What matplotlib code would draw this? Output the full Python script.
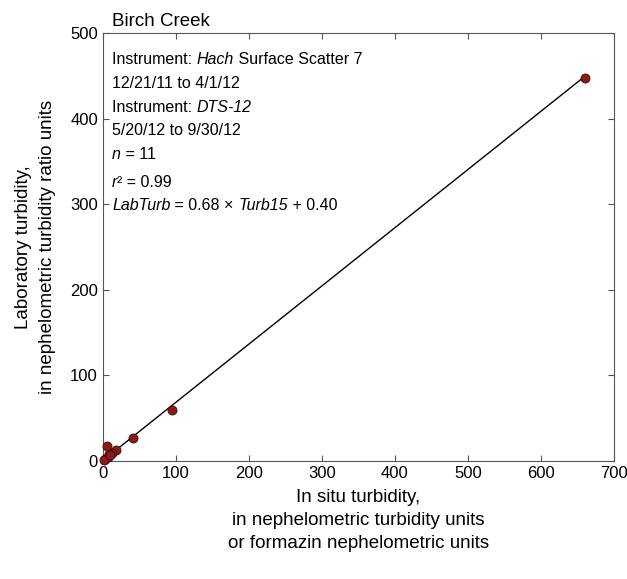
import matplotlib.pyplot as plt
from matplotlib import font_manager
import numpy as np

names = {f.name for f in font_manager.fontManager.ttflist}
fam = 'Liberation Sans Narrow' if 'Liberation Sans Narrow' in names else 'Liberation Sans'
plt.rcParams['font.family'] = [fam, 'DejaVu Sans']

# in situ turbidity (x) vs lab turbidity (y)
insitu = [660, 95, 41, 18, 12, 8, 7, 5.5, 3, 2, 10]
lab = [448, 60, 27, 13, 9, 8, 5, 17.5, 2, 1, 7]
slope = 0.68
intercept = 0.40

fig = plt.figure(figsize=(6.27, 5.79), dpi=100)
ax = fig.add_axes([0.164, 0.204, 0.815, 0.739])

xl = np.array([0, max(insitu)])
ax.plot(xl, slope * xl + intercept, color='black', lw=1, zorder=2)
ax.plot(insitu, lab, 'o', color='#8b1a1a', markeredgecolor='#3a0a0a',
        markeredgewidth=0.6, markersize=6.5, zorder=3, clip_on=False)

ax.set_xlim(0, 700)
ax.set_ylim(0, 500)
ax.set_xticks(range(0, 701, 100))
ax.set_yticks(range(0, 501, 100))
ax.tick_params(direction='in', top=True, right=True, labelsize=12, length=4, color='#555555')
for s in ax.spines.values():
    s.set_color('#555555')

ax.set_xlabel('In situ turbidity,\nin nephelometric turbidity units\nor formazin nephelometric units',
              fontsize=13.5, linespacing=1.45, labelpad=6)
ax.set_ylabel('Laboratory turbidity,\nin nephelometric turbidity ratio units',
              fontsize=13.5, linespacing=1.55, labelpad=10)
ax.text(0.018, 1.008, 'Birch Creek', transform=ax.transAxes, fontsize=13.5, va='bottom')

fs = 11.5
# each line: list of (text, italic)
lines = [
    [('Instrument: ', False), ('Hach', True), (' Surface Scatter 7', False)],
    [('12/21/11 to 4/1/12', False)],
    [('Instrument: ', False), ('DTS-12', True)],
    [('5/20/12 to 9/30/12', False)],
    [('n', True), (' = 11', False)],
    [('r', True), ('\u00b2 = 0.99', False)],
    [('LabTurb', True), (' = 0.68 \u00d7 ', False), ('Turb15', True), (' + 0.40', False)],
]
ys = [0.937, 0.881, 0.825, 0.771, 0.715, 0.650, 0.596]
for parts, y in zip(lines, ys):
    prev = None
    for s, it in parts:
        style = 'italic' if it else 'normal'
        if prev is None:
            prev = ax.text(0.018, y, s, transform=ax.transAxes, fontsize=fs,
                           va='center', style=style)
        else:
            prev = ax.annotate(s, xy=(1, 0), xycoords=prev, va='bottom', ha='left',
                               fontsize=fs, style=style)

fig.savefig('out.png', dpi=100)
